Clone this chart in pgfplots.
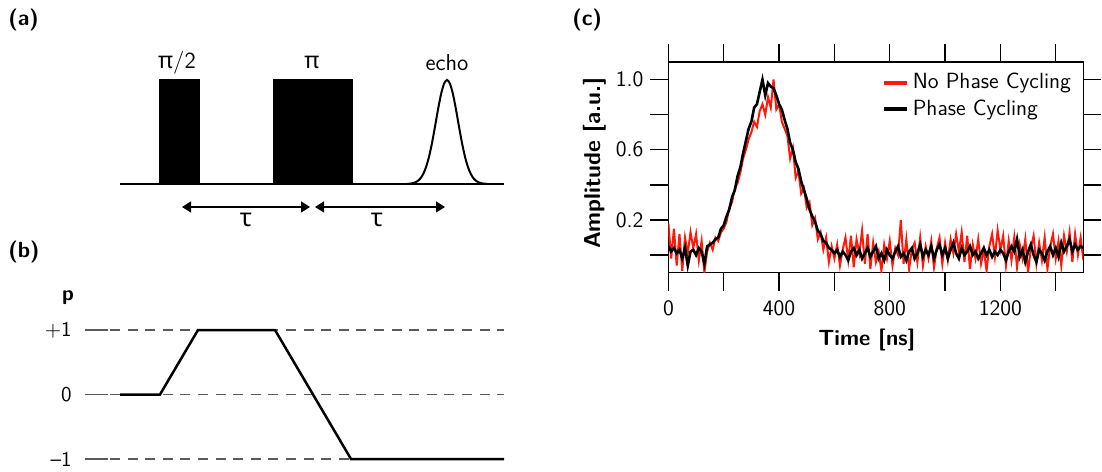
\documentclass[border=0pt]{standalone}
\usepackage{fontspec}
\usepackage{pgfplots}
\pgfplotsset{compat=1.18}
\usetikzlibrary{arrows.meta}
\newfontfamily\grk{Noto Sans}
\renewcommand{\familydefault}{\sfdefault}
\definecolor{gridgray}{RGB}{90,90,90}
\definecolor{noisered}{RGB}{255,25,10}
\tikzset{tip/.style={{Triangle[length=4.5pt,width=5.5pt]}-{Triangle[length=4.5pt,width=5.5pt]}}}
\begin{document}
\sffamily
\begin{tikzpicture}
\useasboundingbox (0,0) rectangle (551pt,-235.5pt);
% panel labels
\node[anchor=west, inner sep=0pt, font=\fontsize{11}{13}\selectfont\bfseries] at (4pt,-10pt) {(a)};
\node[anchor=west, inner sep=0pt, font=\fontsize{11}{13}\selectfont\bfseries] at (4pt,-126pt) {(b)};
\node[anchor=west, inner sep=0pt, font=\fontsize{11}{13}\selectfont\bfseries] at (286pt,-10pt) {(c)};

% (a) pulse sequence
\begin{axis}[at={(60pt,-92pt)}, anchor=south west, scale only axis,
    width=192pt, height=52pt, xmin=0, xmax=384, ymin=0, ymax=1,
    hide axis, clip=false]
\addplot[black, line width=1pt] coordinates {(0,0) (384,0)};
\addplot[fill=black, draw=black, line width=0.5pt] coordinates {(39,1) (79,1)} \closedcycle;
\addplot[fill=black, draw=black, line width=0.5pt] coordinates {(153,1) (232,1)} \closedcycle;
\addplot[black, line width=1pt, smooth] coordinates {
    (287,0.0013) (291,0.0047) (294,0.0111) (297,0.0243) (300,0.0492) (303,0.0926)
    (306,0.1617) (309,0.2621) (312,0.3946) (315,0.5516) (318,0.7155) (321,0.8618)
    (324,0.9635) (327,1) (330,0.9635) (333,0.8618) (336,0.7155) (339,0.5516)
    (342,0.3946) (345,0.2621) (348,0.1617) (351,0.0926) (354,0.0492) (357,0.0243)
    (360,0.0111) (363,0.0047) (367,0.0013)};
\node[font=\fontsize{11.5}{13}\selectfont] at (axis cs:57,1.17) {{\grk π}/2};
\node[font=\fontsize{11.5}{13}\selectfont] at (axis cs:192,1.17) {{\grk π}};
\node[font=\fontsize{11.5}{13}\selectfont] at (axis cs:327,1.17) {echo};
\draw[tip, line width=0.6pt] (axis cs:62,-0.221) -- (axis cs:190,-0.221);
\draw[tip, line width=0.6pt] (axis cs:195,-0.221) -- (axis cs:325,-0.221);
\node[font=\fontsize{12.5}{14}\selectfont] at (axis cs:126,-0.35) {{\grk τ}};
\node[font=\fontsize{12.5}{14}\selectfont] at (axis cs:257,-0.35) {{\grk τ}};
\end{axis}

% (b) coherence pathway
\begin{axis}[at={(60pt,-229.5pt)}, anchor=south west, scale only axis,
    width=192pt, height=64.5pt, xmin=0, xmax=384, ymin=-1, ymax=1,
    hide axis, clip=false]
\addplot[gridgray, line width=0.65pt, dash pattern=on 5pt off 3.8pt] coordinates {(-10,1) (384,1)};
\addplot[gridgray, line width=0.65pt, dash pattern=on 5pt off 3.8pt] coordinates {(-10,0) (384,0)};
\addplot[gridgray, line width=0.65pt, dash pattern=on 5pt off 3.8pt] coordinates {(-10,-1) (384,-1)};
\addplot[gridgray, line width=0.65pt] coordinates {(-35,1) (-12,1)};
\addplot[gridgray, line width=0.65pt] coordinates {(-35,0) (-12,0)};
\addplot[gridgray, line width=0.65pt] coordinates {(-35,-1) (-12,-1)};
\addplot[black, line width=1.25pt] coordinates {(0,0) (40,0) (78,1) (155,1) (231,-1) (384,-1)};
\node[anchor=east, inner sep=0pt, font=\fontsize{10.5}{12}\selectfont] at (axis cs:-48,1) {+1};
\node[anchor=east, inner sep=0pt, font=\fontsize{10.5}{12}\selectfont] at (axis cs:-48,0) {0};
\node[anchor=east, inner sep=0pt, font=\fontsize{10.5}{12}\selectfont] at (axis cs:-48,-1) {–1};
\node[font=\fontsize{10.5}{12}\selectfont\bfseries] at (axis cs:-52,1.51) {p};
\end{axis}

% (c) echo amplitude
\begin{axis}[at={(334.2pt,-136.3pt)}, anchor=south west, scale only axis,
    width=207.5pt, height=105.3pt,
    xmin=0, xmax=1500, ymin=-0.1, ymax=1.1,
    xtick={0,200,400,600,800,1000,1200,1400},
    xticklabels={0,,400,,800,,1200,},
    ytick={0,0.2,0.4,0.6,0.8,1.0},
    yticklabels={,0.2,,0.6,,1.0},
    tick align=outside, major tick length=9pt,
    tick style={black, line width=0.65pt},
    axis line style={line width=0.75pt},
    /pgf/number format/assume math mode=true,
    ticklabel style={font=\sffamily\fontsize{11}{13}\selectfont},
    xticklabel style={yshift=-1.5pt},
    xlabel={Time [ns]}, ylabel={Amplitude [a.u.]},
    xlabel style={at={(axis description cs:0.478,-0.318)}, anchor=center,
        font=\sffamily\bfseries\fontsize{11}{13}\selectfont},
    ylabel style={at={(axis description cs:-0.177,0.52)}, anchor=center,
        font=\sffamily\bfseries\fontsize{11.5}{13}\selectfont},
    legend style={at={(axis description cs:1,1)}, anchor=north east, xshift=-1pt, yshift=-1.5pt,
        draw=none, fill=none, font=\sffamily\fontsize{11}{13}\selectfont},
    legend cell align=left,
    legend image code/.code={\draw[#1, line width=2pt] (0pt,0pt) -- (11.5pt,0pt);},
    clip=true]
\addplot[noisered, line width=1pt] coordinates {
(0,0.18) (10,-0.02) (20,0.15) (30,-0.06) (40,0.12) (50,-0.09) (60,0.10) (70,0.01) (80,0.13) (90,0.04)
(100,0.12) (110,-0.03) (120,0.08) (130,-0.10) (140,0.02) (150,0.07) (160,0.03) (170,0.10) (180,0.08) (190,0.13)
(200,0.15) (210,0.19) (220,0.27) (230,0.30) (240,0.38) (250,0.41) (260,0.47) (270,0.55) (280,0.60) (290,0.66)
(300,0.70) (310,0.76) (320,0.73) (330,0.82) (340,0.86) (350,0.80) (360,0.90) (370,0.84) (380,1.00) (390,0.83)
(400,0.86) (410,0.76) (420,0.72) (430,0.68) (440,0.55) (450,0.61) (460,0.44) (470,0.48) (480,0.35) (490,0.38)
(500,0.27) (510,0.30) (520,0.17) (530,0.21) (540,0.09) (550,0.13) (560,0.03) (570,0.10) (580,-0.04) (590,0.05)
(600,-0.02) (610,0.06) (620,-0.06) (630,0.03) (640,0.10) (650,-0.03) (660,0.11) (670,-0.07) (680,0.09) (690,0.01)
(700,0.14) (710,-0.05) (720,0.12) (730,-0.08) (740,0.07) (750,-0.04) (760,0.02) (770,-0.09) (780,0.06) (790,-0.02)
(800,0.08) (810,-0.06) (820,0.04) (830,0.00) (840,0.20) (850,-0.05) (860,0.09) (870,-0.08) (880,0.03) (890,0.07)
(900,-0.04) (910,0.10) (920,-0.06) (930,0.05) (940,-0.02) (950,0.08) (960,-0.07) (970,0.04) (980,0.10) (990,-0.05)
(1000,0.07) (1010,-0.03) (1020,0.09) (1030,0.01) (1040,0.12) (1050,0.02) (1060,0.13) (1070,-0.04) (1080,0.11) (1090,-0.08)
(1100,0.06) (1110,-0.02) (1120,0.09) (1130,-0.05) (1140,0.03) (1150,-0.09) (1160,0.05) (1170,0.12) (1180,-0.01) (1190,0.14)
(1200,0.03) (1210,0.11) (1220,-0.06) (1230,0.08) (1240,-0.03) (1250,0.10) (1260,-0.07) (1270,0.06) (1280,-0.02) (1290,0.09)
(1300,-0.10) (1310,0.04) (1320,0.11) (1330,-0.05) (1340,0.07) (1350,-0.03) (1360,0.10) (1370,-0.08) (1380,0.05) (1390,0.12)
(1400,-0.02) (1410,0.08) (1420,-0.06) (1430,0.11) (1440,0.02) (1450,0.13) (1460,-0.04) (1470,0.12) (1480,0.00) (1490,0.10)
(1500,-0.03)};
\addlegendentry{No Phase Cycling}
\addplot[black, line width=1.3pt] coordinates {
(0,0.05) (10,0.02) (20,0.04) (30,0.01) (40,0.03) (50,-0.02) (60,0.04) (70,-0.06) (80,0.02) (90,0.03)
(100,0.00) (110,0.04) (120,0.02) (130,-0.05) (140,0.05) (150,0.06) (160,0.07) (170,0.09) (180,0.10) (190,0.15)
(200,0.17) (210,0.22) (220,0.26) (230,0.33) (240,0.37) (250,0.45) (260,0.50) (270,0.58) (280,0.65) (290,0.72)
(300,0.76) (310,0.84) (320,0.86) (330,0.93) (340,1.00) (350,0.91) (360,0.98) (370,0.96) (380,0.95) (390,0.91)
(400,0.86) (410,0.83) (420,0.77) (430,0.72) (440,0.64) (450,0.60) (460,0.53) (470,0.49) (480,0.42) (490,0.37)
(500,0.32) (510,0.26) (520,0.22) (530,0.19) (540,0.14) (550,0.12) (560,0.08) (570,0.07) (580,0.04) (590,0.03)
(600,0.01) (610,0.03) (620,-0.01) (630,0.02) (640,0.00) (650,-0.03) (660,0.02) (670,0.04) (680,0.00) (690,0.03)
(700,-0.02) (710,0.01) (720,0.04) (730,-0.01) (740,0.02) (750,0.05) (760,-0.02) (770,0.01) (780,-0.03) (790,0.03)
(800,0.00) (810,-0.02) (820,0.02) (830,0.05) (840,-0.01) (850,0.01) (860,-0.03) (870,0.02) (880,0.04) (890,-0.02)
(900,0.01) (910,0.06) (920,-0.01) (930,0.03) (940,0.00) (950,0.05) (960,-0.02) (970,0.03) (980,0.06) (990,0.00)
(1000,0.04) (1010,-0.02) (1020,0.03) (1030,0.07) (1040,0.01) (1050,-0.02) (1060,0.04) (1070,0.00) (1080,0.02) (1090,0.05)
(1100,0.00) (1110,0.02) (1120,-0.02) (1130,0.01) (1140,0.04) (1150,0.00) (1160,0.03) (1170,-0.01) (1180,0.02) (1190,0.00)
(1200,0.03) (1210,0.01) (1220,-0.03) (1230,0.02) (1240,0.05) (1250,0.02) (1260,0.09) (1270,-0.01) (1280,0.03) (1290,-0.04)
(1300,0.02) (1310,0.06) (1320,0.00) (1330,-0.04) (1340,0.03) (1350,0.01) (1360,-0.03) (1370,0.02) (1380,0.05) (1390,0.00)
(1400,0.04) (1410,-0.01) (1420,0.07) (1430,0.02) (1440,0.05) (1450,0.09) (1460,0.02) (1470,0.06) (1480,0.03) (1490,0.05)
(1500,0.04)};
\addlegendentry{Phase Cycling}
\end{axis}
\end{tikzpicture}
\end{document}
